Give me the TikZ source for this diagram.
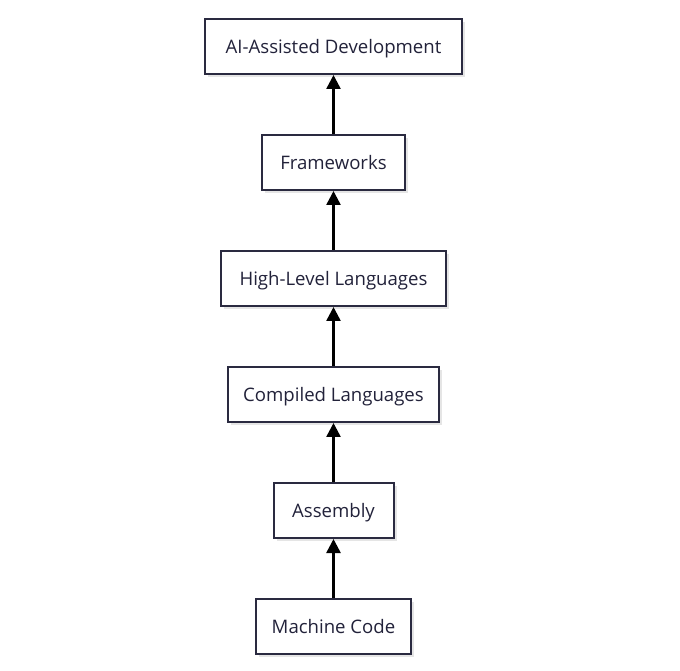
\documentclass[tikz,border=0pt]{standalone}
\usepackage{fontspec}
\setmainfont{Open Sans}
\usetikzlibrary{arrows.meta,shadows}
\definecolor{boxline}{HTML}{2A2A40}
\definecolor{txt}{HTML}{22223A}
\tikzset{
  stage/.style={draw=boxline, line width=2pt, fill=white, minimum height=55pt, inner sep=0pt,
    text height=13.3pt, text depth=0pt,
    font=\fontsize{18.6}{22}\selectfont, text=txt,
    drop shadow={shadow xshift=3pt, shadow yshift=-3pt, fill=black, opacity=0.10}},
  up/.style={line width=2.5pt, black, -{Triangle[width=14pt,length=14pt]}}
}
\begin{document}
\begin{tikzpicture}[x=1pt,y=1pt]
\useasboundingbox (0,0) rectangle (680,670);
\node[stage, minimum width=257pt] (ai) at (333.5,623.5) {AI-Assisted Development};
\node[stage, minimum width=143pt] (fw) at (333.5,507.5) {Frameworks};
\node[stage, minimum width=225pt] (hl) at (333.5,391.5) {High-Level Languages};
\node[stage, minimum width=211pt] (cl) at (333.5,275.5) {Compiled Languages};
\node[stage, minimum width=120pt] (as) at (333.5,159.5) {Assembly};
\node[stage, minimum width=155pt] (mc) at (333.5,43.5) {Machine Code};
\draw[up] (mc) -- (as);
\draw[up] (as) -- (cl);
\draw[up] (cl) -- (hl);
\draw[up] (hl) -- (fw);
\draw[up] (fw) -- (ai);
\end{tikzpicture}
\end{document}
